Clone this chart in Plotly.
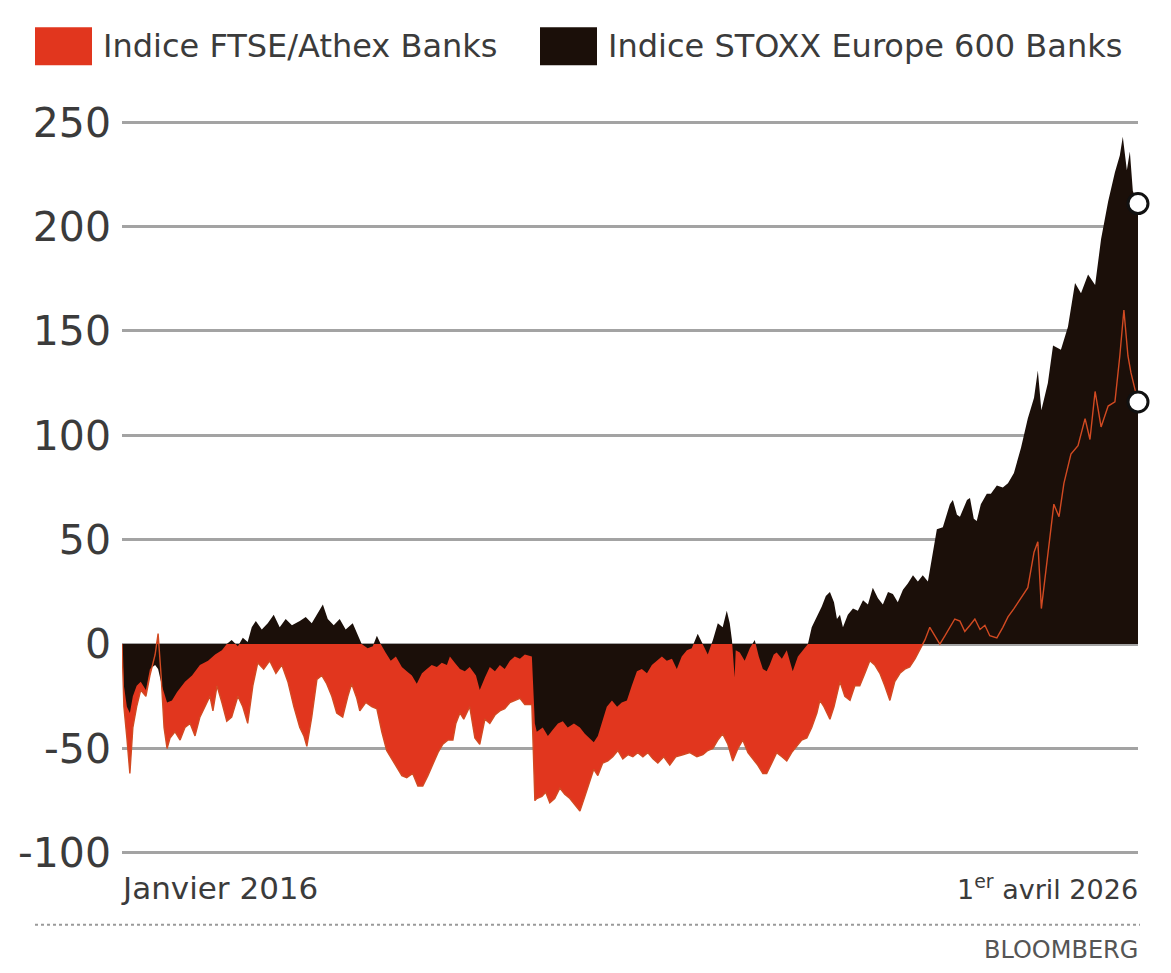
import plotly.graph_objects as go

# ---- Data ----
stoxx_dates = [
    "2016-01-01", "2016-01-08", "2016-01-19", "2016-01-30", "2016-02-10", "2016-02-24", "2016-03-10", "2016-03-29",
    "2016-04-13", "2016-05-02", "2016-05-13", "2016-05-27", "2016-06-15", "2016-07-03", "2016-07-22", "2016-08-20",
    "2016-09-15", "2016-10-14", "2016-11-13", "2016-12-09", "2017-01-03", "2017-01-21", "2017-02-08", "2017-03-03",
    "2017-03-21", "2017-04-08", "2017-04-23", "2017-05-08", "2017-05-30", "2017-06-21", "2017-07-13", "2017-08-04",
    "2017-08-26", "2017-09-18", "2017-10-17", "2017-11-08", "2017-11-30", "2017-12-22", "2018-01-10", "2018-01-28",
    "2018-02-19", "2018-03-13", "2018-04-04", "2018-04-30", "2018-05-19", "2018-06-02", "2018-06-24", "2018-07-13",
    "2018-07-28", "2018-08-11", "2018-08-29", "2018-09-17", "2018-10-06", "2018-10-28", "2018-11-15", "2018-12-04",
    "2018-12-22", "2019-01-10", "2019-01-28", "2019-02-15", "2019-03-06", "2019-03-24", "2019-04-12", "2019-04-23",
    "2019-05-11", "2019-05-30", "2019-06-17", "2019-07-05", "2019-07-28", "2019-08-11", "2019-08-30", "2019-09-17",
    "2019-10-06", "2019-10-24", "2019-11-11", "2019-11-30", "2019-12-18", "2020-01-06", "2020-01-24", "2020-02-19",
    "2020-03-01", "2020-03-08", "2020-03-30", "2020-04-18", "2020-05-06", "2020-05-25", "2020-06-12", "2020-06-30",
    "2020-07-23", "2020-08-14", "2020-09-01", "2020-09-19", "2020-10-04", "2020-10-19", "2020-11-03", "2020-11-21",
    "2020-12-10", "2020-12-29", "2021-01-15", "2021-02-03", "2021-02-21", "2021-03-12", "2021-03-30", "2021-04-18",
    "2021-05-06", "2021-05-24", "2021-06-12", "2021-06-30", "2021-07-19", "2021-08-06", "2021-08-24", "2021-09-12",
    "2021-09-30", "2021-10-22", "2021-11-10", "2021-11-28", "2021-12-17", "2022-01-04", "2022-01-22", "2022-02-06",
    "2022-02-17", "2022-02-25", "2022-03-07", "2022-03-11", "2022-03-26", "2022-04-13", "2022-05-02", "2022-05-20",
    "2022-06-04", "2022-06-19", "2022-07-03", "2022-07-14", "2022-07-29", "2022-08-09", "2022-08-28", "2022-09-15",
    "2022-09-26", "2022-10-07", "2022-10-26", "2022-11-13", "2022-12-02", "2022-12-16", "2023-01-04", "2023-01-22",
    "2023-02-06", "2023-02-21", "2023-03-08", "2023-03-19", "2023-03-30", "2023-04-10", "2023-04-28", "2023-05-17",
    "2023-06-04", "2023-06-23", "2023-07-11", "2023-07-29", "2023-08-17", "2023-09-04", "2023-09-23", "2023-10-11",
    "2023-10-29", "2023-11-17", "2023-12-05", "2023-12-24", "2024-01-11", "2024-01-29", "2024-02-17", "2024-03-06",
    "2024-03-21", "2024-04-12", "2024-05-08", "2024-05-19", "2024-06-03", "2024-06-14", "2024-07-10", "2024-07-21",
    "2024-08-04", "2024-08-15", "2024-08-30", "2024-09-21", "2024-10-06", "2024-10-28", "2024-11-19", "2024-12-08",
    "2024-12-30", "2025-01-25", "2025-02-19", "2025-03-14", "2025-03-28", "2025-04-10", "2025-05-04", "2025-05-23",
    "2025-06-21", "2025-07-17", "2025-08-12", "2025-09-03", "2025-09-29", "2025-10-25", "2025-11-16", "2025-12-12",
    "2026-01-06", "2026-01-24", "2026-02-04", "2026-02-19", "2026-03-02", "2026-03-13", "2026-04-01",
]
stoxx_values = [
    0, -20, -30, -33, -25, -20, -18, -22,
    -12, -10, -12, -20, -28, -27, -23, -18,
    -15, -10, -8, -5, -3, 0, 2, -1,
    3, 1, 8, 11, 7, 10, 14, 8,
    12, 9, 11, 13, 10, 15, 19, 12,
    9, 12, 7, 10, 4, 0, -2, -1,
    4, 0, -4, -8, -6, -11, -13, -15,
    -19, -14, -12, -10, -11, -9, -10, -6,
    -9, -12, -13, -11, -15, -22, -16, -11,
    -13, -10, -12, -8, -6, -7, -5, -6,
    -38, -42, -40, -44, -41, -38, -37, -40,
    -38, -40, -43, -45, -47, -44, -38, -30,
    -27, -30, -28, -27, -20, -13, -12, -14,
    -10, -8, -6, -8, -7, -12, -6, -3,
    -2, 5, 0, -5, 2, 10, 8, 16,
    10, 2, -16, -3, -4, -8, -2, 2,
    -6, -12, -13, -10, -5, -4, -7, -3,
    -8, -13, -6, -3, 0, 8, 13, 18,
    23, 25, 20, 12, 14, 8, 14, 17,
    16, 21, 19, 27, 22, 19, 25, 24,
    20, 26, 29, 33, 30, 33, 30, 43,
    55, 56, 67, 69, 62, 61, 69, 70,
    60, 59, 67, 72, 72, 76, 75, 77,
    82, 94, 108, 118, 131, 112, 125, 143,
    141, 152, 173, 168, 177, 172, 194, 212,
    226, 234, 243, 227, 236, 217, 211,
]

athex_dates = [
    "2016-01-01", "2016-01-08", "2016-01-19", "2016-01-30", "2016-02-10", "2016-02-24", "2016-03-10", "2016-03-29",
    "2016-04-13", "2016-05-02", "2016-05-13", "2016-05-24", "2016-06-04", "2016-06-15", "2016-06-26", "2016-07-14",
    "2016-08-02", "2016-08-20", "2016-09-08", "2016-09-26", "2016-10-14", "2016-11-02", "2016-11-20", "2016-12-01",
    "2016-12-16", "2017-01-03", "2017-01-21", "2017-02-08", "2017-03-03", "2017-03-21", "2017-04-08", "2017-04-27",
    "2017-05-15", "2017-06-06", "2017-06-28", "2017-07-21", "2017-08-12", "2017-09-03", "2017-09-25", "2017-10-17",
    "2017-11-01", "2017-11-12", "2017-11-30", "2017-12-19", "2018-01-06", "2018-01-24", "2018-02-12", "2018-03-02",
    "2018-03-24", "2018-04-12", "2018-04-26", "2018-05-15", "2018-05-26", "2018-06-17", "2018-07-09", "2018-07-28",
    "2018-08-15", "2018-09-02", "2018-09-21", "2018-10-09", "2018-10-28", "2018-11-15", "2018-12-07", "2018-12-26",
    "2019-01-13", "2019-02-01", "2019-02-19", "2019-03-10", "2019-03-28", "2019-04-15", "2019-05-04", "2019-05-15",
    "2019-05-30", "2019-06-13", "2019-07-05", "2019-07-24", "2019-08-11", "2019-08-30", "2019-09-17", "2019-10-06",
    "2019-10-24", "2019-11-11", "2019-11-30", "2019-12-18", "2020-01-06", "2020-01-24", "2020-02-19", "2020-03-01",
    "2020-03-08", "2020-03-27", "2020-04-10", "2020-04-25", "2020-05-13", "2020-06-01", "2020-06-19", "2020-07-08",
    "2020-07-26", "2020-08-14", "2020-09-01", "2020-09-19", "2020-10-04", "2020-10-19", "2020-11-06", "2020-11-25",
    "2020-12-13", "2021-01-01", "2021-01-19", "2021-02-07", "2021-02-25", "2021-03-15", "2021-04-03", "2021-04-21",
    "2021-05-10", "2021-05-28", "2021-06-19", "2021-07-11", "2021-08-02", "2021-08-28", "2021-09-23", "2021-10-19",
    "2021-11-10", "2021-11-28", "2021-12-17", "2022-01-04", "2022-01-22", "2022-02-10", "2022-02-28", "2022-03-19",
    "2022-04-06", "2022-04-25", "2022-05-13", "2022-05-31", "2022-06-19", "2022-07-03", "2022-07-22", "2022-08-09",
    "2022-08-28", "2022-09-15", "2022-10-03", "2022-10-22", "2022-11-09", "2022-11-28", "2022-12-16", "2023-01-04",
    "2023-01-15", "2023-01-30", "2023-02-21", "2023-03-08", "2023-03-30", "2023-04-17", "2023-05-06", "2023-05-24",
    "2023-06-11", "2023-06-30", "2023-07-18", "2023-08-05", "2023-08-24", "2023-09-11", "2023-09-30", "2023-10-18",
    "2023-11-06", "2023-11-24", "2023-12-12", "2024-01-01", "2024-01-18", "2024-02-06", "2024-02-24", "2024-03-14",
    "2024-04-01", "2024-04-20", "2024-05-08", "2024-05-26", "2024-06-14", "2024-07-02", "2024-07-21", "2024-08-08",
    "2024-08-27", "2024-09-14", "2024-10-02", "2024-10-28", "2024-11-19", "2024-12-08", "2024-12-30", "2025-01-14",
    "2025-02-01", "2025-02-19", "2025-03-14", "2025-03-28", "2025-04-10", "2025-05-04", "2025-05-26", "2025-06-14",
    "2025-07-02", "2025-07-28", "2025-08-23", "2025-09-18", "2025-10-06", "2025-10-25", "2025-11-16", "2025-12-12",
    "2026-01-06", "2026-01-24", "2026-02-08", "2026-02-23", "2026-03-06", "2026-04-01",
]
athex_values = [
    0, -30, -45, -62, -40, -30, -22, -25,
    -15, -5, 5, -15, -40, -50, -45, -42,
    -46, -40, -38, -44, -35, -30, -25, -32,
    -20, -28, -37, -35, -25, -30, -38, -20,
    -9, -12, -8, -14, -10, -18, -30, -40,
    -44, -49, -35, -17, -15, -19, -25, -33,
    -35, -25, -19, -26, -32, -28, -30, -31,
    -42, -51, -55, -59, -63, -64, -62, -68,
    -68, -63, -58, -52, -48, -46, -46, -38,
    -33, -36, -30, -45, -48, -36, -38, -34,
    -32, -31, -28, -27, -26, -29, -29, -75,
    -74, -73, -71, -76, -74, -69, -72, -74,
    -77, -80, -73, -66, -60, -63, -57, -56,
    -54, -51, -55, -53, -54, -52, -54, -52,
    -55, -57, -54, -58, -54, -53, -52, -54,
    -53, -51, -50, -46, -43, -48, -56, -50,
    -46, -52, -55, -58, -62, -62, -57, -52,
    -54, -56, -52, -49, -46, -45, -40, -33,
    -27, -30, -36, -30, -18, -25, -27, -20,
    -20, -14, -8, -10, -14, -20, -27, -18,
    -14, -12, -11, -7, -3, 2, 8, 4,
    0, 4, 8, 12, 11, 6, 9, 12,
    7, 9, 4, 3, 8, 13, 17, 20,
    24, 27, 44, 49, 17, 42, 67, 61,
    77, 91, 95, 108, 98, 121, 104, 114,
    116, 138, 160, 138, 130, 116,
]

y_ticks = [-100, -50, 0, 50, 100, 150, 200, 250]
series_names = ["Indice FTSE/Athex Banks", "Indice STOXX Europe 600 Banks"]
start_label = "Janvier 2016"
end_label = "1<sup>er</sup> avril 2026"
source_label = "BLOOMBERG"

RED = "#E1361E"
BLACK = "#1B0F09"
TXT = "#3b3b3b"
FONT = "DejaVu Sans, Arial, sans-serif"

fig = go.Figure()

# red area (drawn first, underneath)
fig.add_trace(go.Scatter(
    x=athex_dates, y=athex_values, mode="lines", fill="tozeroy",
    fillcolor=RED, line=dict(color=RED, width=0), hoverinfo="skip", showlegend=False,
))
# black area on top
fig.add_trace(go.Scatter(
    x=stoxx_dates, y=stoxx_values, mode="lines", fill="tozeroy",
    fillcolor=BLACK, line=dict(color=BLACK, width=0), hoverinfo="skip", showlegend=False,
))
# thin red line over everything
fig.add_trace(go.Scatter(
    x=athex_dates, y=athex_values, mode="lines",
    line=dict(color="#D24A22", width=1.4), hoverinfo="skip", showlegend=False,
))
# end markers
fig.add_trace(go.Scatter(
    x=[stoxx_dates[-1], athex_dates[-1]], y=[stoxx_values[-1], athex_values[-1]],
    mode="markers", cliponaxis=False,
    marker=dict(size=20, color="white", line=dict(color="#111111", width=3)),
    hoverinfo="skip", showlegend=False,
))

# Page body has an 8px margin; plot area in screenshot pixels: x 122..1138, y 117.8..857.2
OFF = 8
W, H = 1171 - 2 * OFF, 973 - 2 * OFF
L, R = 122, 1138
T, B = 117.8, 857.2


def px(xp):
    return (xp - L) / (R - L)


def py(yp):
    return (B - yp) / (B - T)


shapes = [
    dict(type="rect", xref="paper", yref="paper", x0=px(35), x1=px(92), y0=py(65), y1=py(27),
         fillcolor=RED, line=dict(width=0)),
    dict(type="rect", xref="paper", yref="paper", x0=px(540), x1=px(597), y0=py(65), y1=py(27),
         fillcolor=BLACK, line=dict(width=0)),
    dict(type="line", xref="paper", yref="paper", x0=px(35), x1=px(1140), y0=py(925), y1=py(925),
         line=dict(color="#9a9a9a", width=2, dash="dot")),
]

annotations = [
    dict(text=series_names[0], xref="paper", yref="paper", x=px(101), y=py(46), xanchor="left", yanchor="middle",
         showarrow=False, font=dict(family=FONT, size=32, color=TXT)),
    dict(text=series_names[1], xref="paper", yref="paper", x=px(606), y=py(46), xanchor="left", yanchor="middle",
         showarrow=False, font=dict(family=FONT, size=32, color=TXT)),
    dict(text=start_label, xref="paper", yref="paper", x=px(119), y=py(888), xanchor="left", yanchor="middle",
         showarrow=False, font=dict(family=FONT, size=31, color=TXT)),
    dict(text=end_label, xref="paper", yref="paper", x=px(1140), y=py(888), xanchor="right", yanchor="middle",
         showarrow=False, font=dict(family=FONT, size=27, color=TXT)),
    dict(text=source_label, xref="paper", yref="paper", x=px(1140), y=py(950), xanchor="right", yanchor="middle",
         showarrow=False, font=dict(family=FONT, size=24, color="#555555")),
]

fig.update_layout(
    width=W, height=H,
    margin=dict(l=L - OFF, r=W - (R - OFF), t=T - OFF, b=H - (B - OFF), pad=0, autoexpand=False),
    paper_bgcolor="white", plot_bgcolor="white",
    showlegend=False,
    shapes=shapes, annotations=annotations,
    xaxis=dict(range=["2016-01-01", "2026-04-01"], showgrid=False, showticklabels=False,
               zeroline=False, showline=False, ticks="", automargin=False),
    yaxis=dict(range=[-102, 252], tickvals=y_ticks, ticktext=[str(v) for v in y_ticks],
               showgrid=True, gridcolor="#a3a3a3", gridwidth=2.5, zeroline=False, showline=False,
               ticks="", ticklabelstandoff=10, automargin=False,
               tickfont=dict(family=FONT, size=41, color=TXT)),
)

fig.write_html("out.html")
